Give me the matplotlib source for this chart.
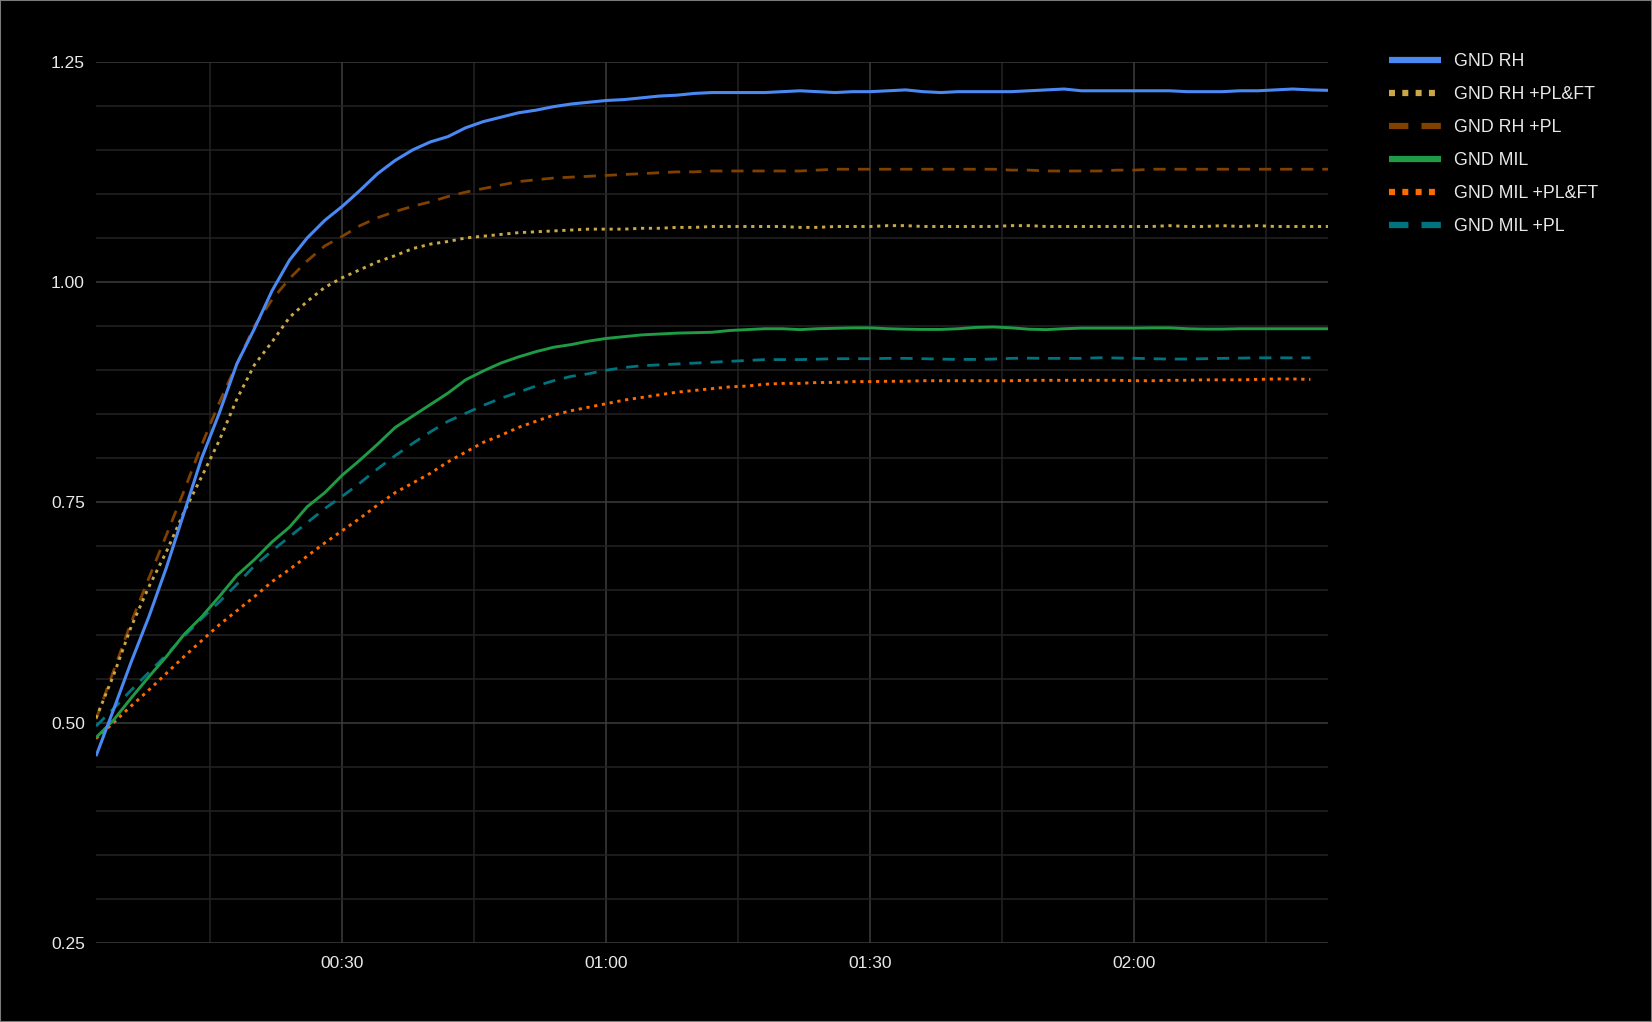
import matplotlib.pyplot as plt
from matplotlib.lines import Line2D
from matplotlib.patches import Rectangle
from matplotlib.ticker import MultipleLocator, FuncFormatter

# time in minutes, one sample every 2 min
minutes = list(range(2, 143, 2))
minutes_short = list(range(2, 141, 2))

gnd_rh = [0.462, 0.515, 0.569, 0.620, 0.676, 0.738, 0.800, 0.851, 0.907, 0.947,
          0.990, 1.025, 1.050, 1.070, 1.086, 1.104, 1.123, 1.138, 1.150, 1.159,
          1.165, 1.175, 1.182, 1.187, 1.192, 1.195, 1.199, 1.202, 1.204, 1.206,
          1.207, 1.209, 1.211, 1.212, 1.214, 1.215, 1.215, 1.215, 1.215, 1.216,
          1.217, 1.216, 1.215, 1.216, 1.216, 1.217, 1.218, 1.216, 1.215, 1.216,
          1.216, 1.216, 1.216, 1.217, 1.218, 1.219, 1.217, 1.217, 1.217, 1.217,
          1.217, 1.217, 1.216, 1.216, 1.216, 1.217, 1.217, 1.218, 1.219, 1.218,
          1.2175]
gnd_rh_plft = [0.505, 0.554, 0.609, 0.654, 0.694, 0.739, 0.779, 0.820, 0.867, 0.906,
               0.932, 0.960, 0.978, 0.994, 1.005, 1.014, 1.023, 1.030, 1.038, 1.043,
               1.046, 1.050, 1.052, 1.054, 1.056, 1.057, 1.058, 1.059, 1.060, 1.060,
               1.060, 1.061, 1.061, 1.062, 1.062, 1.063, 1.063, 1.063, 1.063, 1.063,
               1.062, 1.062, 1.063, 1.063, 1.063, 1.064, 1.064, 1.063, 1.063, 1.063,
               1.063, 1.063, 1.064, 1.064, 1.063, 1.063, 1.063, 1.063, 1.063, 1.063,
               1.063, 1.064, 1.063, 1.063, 1.064, 1.063, 1.064, 1.063, 1.063, 1.063,
               1.063]
gnd_rh_pl = [0.504, 0.559, 0.614, 0.664, 0.713, 0.763, 0.815, 0.863, 0.907, 0.950,
             0.980, 1.004, 1.024, 1.041, 1.052, 1.064, 1.073, 1.080, 1.086, 1.091,
             1.097, 1.102, 1.106, 1.110, 1.114, 1.116, 1.118, 1.119, 1.120, 1.121,
             1.122, 1.123, 1.124, 1.125, 1.125, 1.126, 1.126, 1.126, 1.126, 1.126,
             1.126, 1.127, 1.128, 1.128, 1.128, 1.128, 1.128, 1.128, 1.128, 1.128,
             1.128, 1.128, 1.127, 1.127, 1.126, 1.126, 1.126, 1.126, 1.127, 1.127,
             1.128, 1.128, 1.128, 1.128, 1.128, 1.128, 1.128, 1.128, 1.128, 1.128,
             1.128]
gnd_mil = [0.483, 0.503, 0.528, 0.552, 0.575, 0.600, 0.620, 0.643, 0.667, 0.685,
           0.705, 0.722, 0.745, 0.761, 0.781, 0.798, 0.816, 0.835, 0.848, 0.861,
           0.874, 0.889, 0.899, 0.908, 0.915, 0.921, 0.926, 0.929, 0.933, 0.936,
           0.938, 0.940, 0.941, 0.942, 0.9425, 0.943, 0.945, 0.946, 0.947, 0.947,
           0.946, 0.947, 0.9475, 0.948, 0.948, 0.947, 0.9465, 0.9462, 0.9462, 0.947,
           0.9485, 0.949, 0.948, 0.9465, 0.946, 0.947, 0.9477, 0.9477, 0.9477, 0.9477,
           0.948, 0.948, 0.947, 0.9466, 0.9466, 0.947, 0.947, 0.947, 0.947, 0.947,
           0.947]
gnd_mil_plft = [0.482, 0.500, 0.519, 0.537, 0.556, 0.575, 0.593, 0.611, 0.627, 0.643,
                0.660, 0.674, 0.689, 0.704, 0.718, 0.732, 0.747, 0.761, 0.772, 0.783,
                0.796, 0.807, 0.818, 0.826, 0.835, 0.842, 0.849, 0.854, 0.858, 0.862,
                0.866, 0.869, 0.872, 0.875, 0.877, 0.879, 0.881, 0.882, 0.884, 0.885,
                0.885, 0.886, 0.886, 0.887, 0.887, 0.8874, 0.8874, 0.888, 0.888, 0.888,
                0.888, 0.888, 0.888, 0.8885, 0.8885, 0.8885, 0.8885, 0.8885, 0.8885, 0.888,
                0.888, 0.8885, 0.8885, 0.889, 0.889, 0.889, 0.8895, 0.890, 0.890, 0.8895]
gnd_mil_pl = [0.496, 0.516, 0.537, 0.557, 0.577, 0.598, 0.618, 0.637, 0.657, 0.678,
              0.695, 0.711, 0.727, 0.743, 0.757, 0.772, 0.788, 0.803, 0.817, 0.830,
              0.842, 0.851, 0.860, 0.868, 0.875, 0.882, 0.888, 0.893, 0.896, 0.900,
              0.903, 0.905, 0.906, 0.907, 0.908, 0.909, 0.910, 0.911, 0.912, 0.912,
              0.912, 0.9125, 0.913, 0.913, 0.913, 0.9134, 0.9134, 0.913, 0.9125, 0.9122,
              0.9122, 0.9126, 0.9134, 0.9136, 0.9134, 0.9134, 0.9134, 0.9141, 0.9138, 0.9135,
              0.913, 0.9126, 0.9126, 0.913, 0.9134, 0.9137, 0.914, 0.914, 0.914, 0.914]

labels = ['GND RH', 'GND RH +PL&FT', 'GND RH +PL', 'GND MIL', 'GND MIL +PL&FT', 'GND MIL +PL']
colors = ['#4a89f3', '#c9a84a', '#7f4000', '#1f9a45', '#ff6a00', '#00737e']
dotted = (0, (1.1, 1.6))
dashed = (0, (4.4, 3.2))
styles = ['-', dotted, dashed, '-', dotted, dashed]

bg = '#000000'
text_col = '#e8e8e8'


def fmt_time(v, pos):
    m = int(round(v))
    return '%02d:%02d' % (m // 60, m % 60)


def main():
    plt.rcParams['font.family'] = ['Liberation Sans', 'DejaVu Sans']
    fig = plt.figure(figsize=(16.52, 10.22), dpi=100, facecolor=bg)
    ax = fig.add_axes([96 / 1652, 1 - 943 / 1022, (1328 - 96) / 1652, (943 - 61.7) / 1022])
    ax.set_facecolor(bg)

    series = [(minutes, gnd_rh), (minutes, gnd_rh_plft), (minutes, gnd_rh_pl),
              (minutes, gnd_mil), (minutes_short, gnd_mil_plft), (minutes_short, gnd_mil_pl)]
    widths = [2.2, 2.1, 2.0, 2.1, 2.1, 2.0]
    order = [2, 1, 0, 5, 4, 3]
    for i in order:
        x, y = series[i]
        ax.plot(x, y, color=colors[i], linestyle=styles[i], lw=widths[i],
                solid_capstyle='butt', dash_capstyle='butt', zorder=3 + (6 - i) * 0.1)

    ax.set_xlim(2, 142)
    ax.set_ylim(0.25, 1.25)
    ax.xaxis.set_major_locator(MultipleLocator(30))
    ax.xaxis.set_minor_locator(MultipleLocator(15))
    ax.xaxis.set_major_formatter(FuncFormatter(fmt_time))
    ax.yaxis.set_major_locator(MultipleLocator(0.25))
    ax.yaxis.set_minor_locator(MultipleLocator(0.05))
    ax.yaxis.set_major_formatter(FuncFormatter(lambda v, p: '%.2f' % v))

    ax.grid(which='major', color='#3d3d3d', lw=1.1, zorder=0)
    ax.grid(which='minor', color='#232323', lw=1.1, zorder=0)
    ax.set_axisbelow(True)
    for s in ax.spines.values():
        s.set_visible(False)
    ax.tick_params(which='both', length=0, colors=text_col, labelsize=12.5)
    ax.tick_params(axis='y', pad=8)
    ax.tick_params(axis='x', pad=9)

    handles = []
    leg_styles = ['-', (0, (0.96, 1.17)), (0, (3.1, 2.1)), '-', (0, (0.96, 1.17)), (0, (3.1, 2.1))]
    for i in range(len(labels)):
        handles.append(Line2D([], [], color=colors[i], lw=4.5, linestyle=leg_styles[i],
                              solid_capstyle='butt', dash_capstyle='butt'))
    leg = fig.legend(handles, labels, loc='upper left', bbox_to_anchor=(1389 / 1652, 1 - 53 / 1022),
                     frameon=False, fontsize=12.8, handlelength=2.93, handletextpad=0.72,
                     labelspacing=0.90, borderpad=0, borderaxespad=0)
    for t in leg.get_texts():
        t.set_color(text_col)

    fig.patches.append(Rectangle((0, 0), 1, 1, transform=fig.transFigure, fill=False,
                                 edgecolor='#7a7a7a', lw=1.5))
    plt.savefig('out.png', dpi=100, facecolor=bg)
    plt.close()


if __name__ == "__main__":
    main()
